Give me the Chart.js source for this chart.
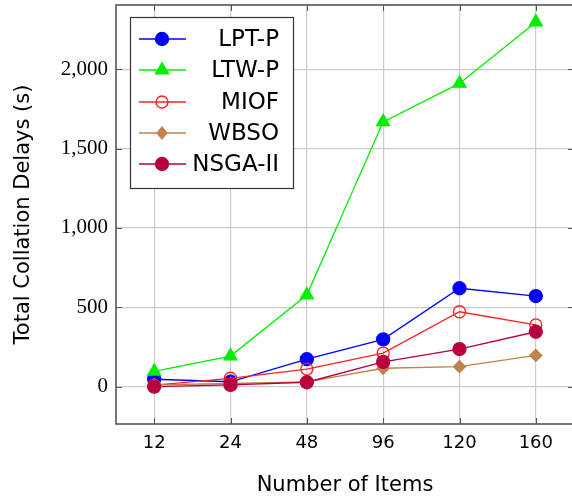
<!DOCTYPE html>
<html>
<head>
<meta charset="utf-8">
<script src="https://cdn.jsdelivr.net/npm/chart.js@4"></script>
<style>
  html, body { margin: 0; padding: 0; background: #fff; overflow: hidden; width: 572px; height: 498px; }
  #wrap { width: 576px; height: 498px; position: relative; }
</style>
</head>
<body>
<div id="wrap"><canvas id="c" width="576" height="498"></canvas></div>
<script>
// Number of items per instance
const categories = ['12', '24', '48', '96', '120', '160'];
// Total collation delays (s) per method
const lptP   = [47, 31, 173, 298, 620, 571];
const ltwP   = [96, 193, 577, 1668, 1910, 2296];
const miof   = [10, 53, 111, 212, 472, 389];
const wbso   = [12, 20, 30, 116, 126, 197];
const nsga2  = [0, 11, 28, 156, 237, 346];
const yTicks = [0, 500, 1000, 1500, 2000];

const SANS = '"DejaVu Sans", sans-serif';
const SERIF = '"Liberation Serif", "DejaVu Serif", serif';
const FRAME = '#555555';

// Frame with inward tick marks on all four sides
const framePlugin = {
  id: 'frame',
  afterDatasetsDraw(chart) {
    const { ctx, chartArea: a, scales } = chart;
    ctx.save();
    ctx.strokeStyle = FRAME;
    ctx.lineWidth = 1;
    const t = 6;
    ctx.beginPath();
    scales.y.ticks.forEach((tk, i) => {
      const y = Math.round(scales.y.getPixelForTick(i)) + 0.5;
      ctx.moveTo(a.left, y); ctx.lineTo(a.left + t, y);
      ctx.moveTo(a.right, y); ctx.lineTo(a.right - t, y);
    });
    scales.x.ticks.forEach((tk, i) => {
      const x = Math.round(scales.x.getPixelForTick(i)) + 0.5;
      ctx.moveTo(x, a.bottom); ctx.lineTo(x, a.bottom - t);
      ctx.moveTo(x, a.top); ctx.lineTo(x, a.top + t);
    });
    ctx.stroke();
    ctx.lineWidth = 1.6;
    ctx.strokeRect(a.left, a.top, a.right - a.left, a.bottom - a.top);
    ctx.restore();
  }
};

// Boxed legend with line samples on the left and right-aligned names
const legendPlugin = {
  id: 'boxLegend',
  afterDraw(chart) {
    const { ctx } = chart;
    const box = { x: 130.5, y: 17.5, w: 163, h: 171 };
    ctx.save();
    ctx.fillStyle = '#ffffff';
    ctx.fillRect(box.x, box.y, box.w, box.h);
    ctx.strokeStyle = '#333333';
    ctx.lineWidth = 1.2;
    ctx.strokeRect(box.x, box.y, box.w, box.h);
    const rows = [39, 70, 102, 133, 164];
    chart.data.datasets.forEach((ds, i) => {
      const cy = rows[i];
      ctx.strokeStyle = ds.borderColor;
      ctx.lineWidth = ds.borderWidth;
      ctx.beginPath();
      ctx.moveTo(139, cy); ctx.lineTo(186, cy);
      ctx.stroke();
      ctx.fillStyle = ds.pointBackgroundColor;
      ctx.strokeStyle = ds.pointBorderColor;
      ctx.lineWidth = ds.pointBorderWidth;
      ctx.beginPath();
      const r = ds.pointRadius;
      if (ds.pointStyle === 'circle') {
        ctx.arc(162, cy, r, 0, Math.PI * 2);
      } else if (ds.pointStyle === 'triangle') {
        ctx.moveTo(162, cy - r);
        ctx.lineTo(162 + r * 0.866, cy + r * 0.5);
        ctx.lineTo(162 - r * 0.866, cy + r * 0.5);
        ctx.closePath();
      } else if (ds.pointStyle === 'rectRot') {
        ctx.moveTo(162, cy - r); ctx.lineTo(162 + r * 0.8, cy);
        ctx.lineTo(162, cy + r); ctx.lineTo(162 - r * 0.8, cy);
        ctx.closePath();
      }
      ctx.fill();
      ctx.stroke();
      ctx.fillStyle = '#000000';
      ctx.font = '23px ' + SANS;
      ctx.textAlign = 'right';
      ctx.textBaseline = 'middle';
      ctx.fillText(ds.label, 279, cy + 1);
    });
    ctx.restore();
  }
};

const series = (label, data, color, style, fill, radius, order) => ({
  label, data, order,
  borderColor: color,
  borderWidth: 1.3,
  pointStyle: style,
  pointRadius: radius,
  pointHoverRadius: radius,
  pointBackgroundColor: fill,
  pointBorderColor: color,
  pointBorderWidth: 1.3,
  tension: 0,
  clip: false
});

new Chart(document.getElementById('c'), {
  type: 'line',
  data: {
    labels: categories,
    datasets: [
      series('LPT-P', lptP, '#0000ff', 'circle', '#0000ff', 6.5, 5),
      series('LTW-P', ltwP, '#00ee00', 'triangle', '#00ee00', 7.5, 4),
      series('MIOF', miof, '#ff2020', 'circle', 'rgba(0,0,0,0)', 6, 3),
      series('WBSO', wbso, '#c0824a', 'rectRot', '#c0824a', 6, 2),
      series('NSGA-II', nsga2, '#b8003f', 'circle', '#b8003f', 6.5, 1)
    ]
  },
  options: {
    responsive: false,
    animation: false,
    devicePixelRatio: 1,
    layout: { autoPadding: false, padding: { top: 5, right: 2, bottom: 0, left: 0 } },
    plugins: { legend: { display: false }, tooltip: { enabled: false } },
    scales: {
      x: {
        type: 'category',
        offset: true,
        grid: { offset: false, color: '#cccccc', lineWidth: 1.2, drawTicks: false },
        border: { display: false },
        ticks: { color: '#000', padding: 9, font: { family: SANS, size: 18 } },
        title: {
          display: true, text: 'Number of Items', color: '#000',
          font: { family: SANS, size: 21 }, padding: { top: 0, bottom: 0 }
        },
        afterFit(scale) {
          scale.height = 74;
          scale.paddingLeft = 0;
          scale.paddingRight = 0;
        }
      },
      y: {
        min: -235,
        max: 2404,
        afterBuildTicks(scale) { scale.ticks = yTicks.map(v => ({ value: v })); },
        grid: { color: '#cccccc', lineWidth: 1.2, drawTicks: false },
        border: { display: false },
        ticks: {
          color: '#000', padding: 8,
          font: { family: SERIF, size: 21 },
          callback: v => v.toLocaleString('en-US')
        },
        title: {
          display: true, text: 'Total Collation Delays (s)', color: '#000',
          font: { family: SANS, size: 21 }, padding: { top: 11, bottom: 0 }
        },
        afterFit(scale) {
          scale.width = 116;
          scale.paddingTop = 0;
          scale.paddingBottom = 0;
        }
      }
    }
  },
  plugins: [framePlugin, legendPlugin]
});
</script>
</body>
</html>
